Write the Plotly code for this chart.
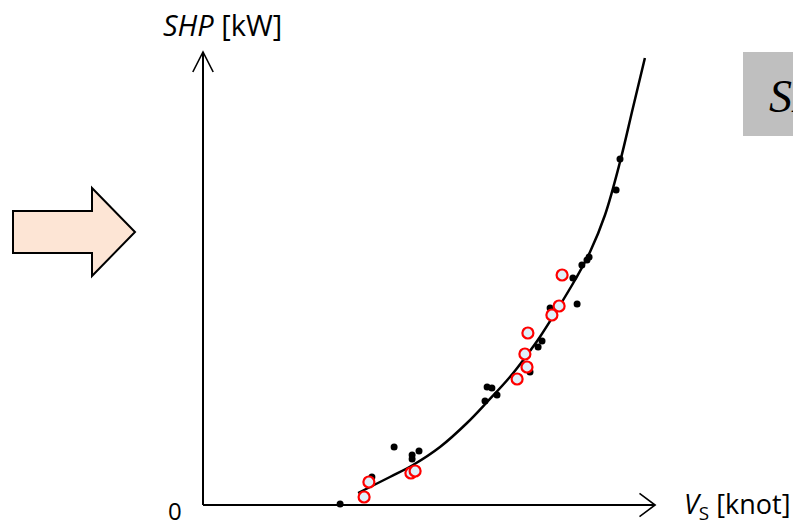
import plotly.graph_objects as go

# ---- data (Vs in knots, SHP in kW) ----
curve_vs = [5.17, 6.23, 7.00, 7.90, 8.80, 9.47, 10.23, 10.80, 11.23, 11.80, 12.40,
            12.90, 13.40, 13.90, 14.33, 14.73]
curve_shp = [300, 700, 1000, 1450, 2050, 2575, 3200, 3750, 4200, 4875, 5625,
             6325, 7250, 8575, 9925, 11175]

black_vs = [4.57, 5.63, 6.37, 6.97, 6.97, 7.20, 9.47, 9.63, 9.80, 9.40, 11.17, 11.30, 10.90, 11.57,
            12.47, 12.33, 12.63, 12.80, 12.87, 13.77, 13.90]
black_shp = [25, 700, 1450, 1250, 1150, 1350, 2950, 2925, 2750, 2600, 3950, 4100, 3325, 4925,
             5025, 5675, 6000, 6125, 6200, 7875, 8650]

red_vs = [5.37, 5.53, 6.93, 7.07, 10.47, 10.80, 10.73, 10.83, 11.63, 11.87, 11.97]
red_shp = [200, 575, 800, 850, 3150, 3450, 3775, 4300, 4750, 4975, 5750]

x_label = "<i>V</i><sub>S</sub> [knot]"
y_label = "<i>SHP</i> [kW]"
origin_label = "0"
box_text = "<i>SHP</i>"

# page body has an 8px margin: figure sized to fill the rest of the window
OFF = 8
W, H = 801 - OFF, 528 - OFF
X_RANGE = [-6.5, 19.9333]
Y_RANGE = [-575, 12425]
X_END = 15.07
Y_END = 11325


def px(x, y):
    """window pixel -> paper coordinate"""
    return (x - OFF) / W, 1 - (y - OFF) / H


fig = go.Figure()

fig.add_trace(go.Scatter(x=black_vs, y=black_shp, mode="markers",
                         marker=dict(size=7, color="black"), hoverinfo="skip"))
fig.add_trace(go.Scatter(x=curve_vs, y=curve_shp, mode="lines",
                         line=dict(color="black", width=2.5, shape="spline", smoothing=1.0),
                         hoverinfo="skip"))
fig.add_trace(go.Scatter(x=red_vs, y=red_shp, mode="markers",
                         marker=dict(size=11, color="#dff0fa", line=dict(color="#ff0000", width=2.2)),
                         hoverinfo="skip"))

shapes = []
# axes
shapes.append(dict(type="line", x0=0, y0=0, x1=X_END, y1=0, line=dict(color="black", width=2)))
shapes.append(dict(type="line", x0=0, y0=0, x1=0, y1=Y_END, line=dict(color="black", width=2)))
# arrow heads (open chevrons)
shapes.append(dict(type="path",
                   path=f"M {X_END-0.52},{-290} L {X_END},0 L {X_END-0.52},{290}",
                   line=dict(color="black", width=1.6)))
shapes.append(dict(type="path",
                   path=f"M {-0.34},{Y_END-500} L 0,{Y_END} L {0.34},{Y_END-500}",
                   line=dict(color="black", width=1.6)))

# block arrow on the left (paper coordinates)
pts = [(13, 211), (92, 211), (92, 188), (135, 232), (92, 276), (92, 253), (13, 253)]
path = "M " + " L ".join(f"{px(a, b)[0]:.5f},{px(a, b)[1]:.5f}" for a, b in pts) + " Z"
shapes.append(dict(type="path", xref="paper", yref="paper", path=path,
                   fillcolor="#fde5d5", line=dict(color="black", width=2)))

# grey box at right
bx0, by0 = px(743, 52)
bx1, by1 = px(810, 136)
shapes.append(dict(type="rect", xref="paper", yref="paper", x0=bx0, y0=by1, x1=bx1, y1=by0,
                   fillcolor="#bfbfbf", line=dict(width=0), layer="below"))

annotations = []
ax, ay = px(222, 25)
annotations.append(dict(xref="paper", yref="paper", x=ax, y=ay, text=y_label, showarrow=False,
                        xanchor="center", yanchor="middle",
                        font=dict(family="Open Sans", size=29, color="black")))
ax, ay = px(682, 505)
annotations.append(dict(xref="paper", yref="paper", x=ax, y=ay, text=x_label, showarrow=False,
                        xanchor="left", yanchor="middle",
                        font=dict(family="Open Sans", size=27, color="black")))
ax, ay = px(175, 510)
annotations.append(dict(xref="paper", yref="paper", x=ax, y=ay, text=origin_label, showarrow=False,
                        xanchor="center", yanchor="middle",
                        font=dict(family="Open Sans", size=24, color="black")))
ax, ay = px(767, 96)
annotations.append(dict(xref="paper", yref="paper", x=ax, y=ay, text=box_text, showarrow=False,
                        xanchor="left", yanchor="middle",
                        font=dict(family="Liberation Serif", size=46, color="black")))

fig.update_layout(
    width=W, height=H,
    margin=dict(l=0, r=0, t=0, b=0),
    paper_bgcolor="white", plot_bgcolor="white",
    showlegend=False,
    xaxis=dict(range=X_RANGE, visible=False, showgrid=False, zeroline=False, fixedrange=True),
    yaxis=dict(range=Y_RANGE, visible=False, showgrid=False, zeroline=False, fixedrange=True),
    shapes=shapes,
    annotations=annotations,
)

fig.write_html("out.html")
